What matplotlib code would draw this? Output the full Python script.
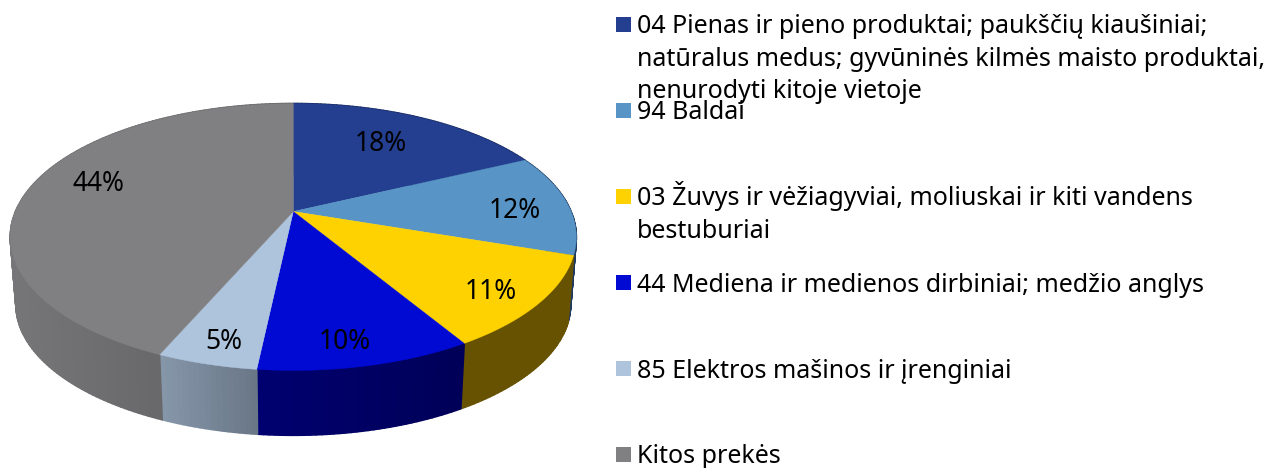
import numpy as np
import matplotlib
matplotlib.use('Agg')
import matplotlib.pyplot as plt
from matplotlib.collections import PolyCollection
from matplotlib.colors import to_rgb
from matplotlib.patches import Rectangle

plt.rcParams['font.family'] = ['Noto Sans', 'DejaVu Sans']

# shares
values = [17.9, 12.3, 11.2, 10.3, 4.8, 43.5]
legend_labels = [
    '04 Pienas ir pieno produktai; paukščių kiaušiniai;\nnatūralus medus; gyvūninės kilmės maisto produktai,\nnenurodyti kitoje vietoje',
    '94 Baldai',
    '03 Žuvys ir vėžiagyviai, moliuskai ir kiti vandens\nbestuburiai',
    '44 Mediena ir medienos dirbiniai; medžio anglys',
    '85 Elektros mašinos ir įrenginiai',
    'Kitos prekės',
]
colors = ['#243f8f', '#5895c6', '#fdd200', '#000ad2', '#aec4dc', '#808083']
wall_left = ['#16265a', '#1f3a60', '#665200', '#000070', '#8797aa', '#767678']
wall_right = ['#16265a', '#1f3a60', '#665200', '#000058', '#687686', '#5c5c5e']

# pixel layout
pct_xy = [(381, 151), (515, 218), (491, 299), (345, 349), (224, 349), (98, 191)]
marker_y = [17, 103, 189, 275, 361, 447]
text_y = [33, 119, 205, 292, 378, 463]
line_h = 32.5

cx, cy = 293.3, 211.5
k, A, B = 0.191, 128.6, 277.8
depth, shrink = 68, 0.98


def project(theta, r=1.0, z=0.0):
    # theta clockwise from 12 o'clock, simple perspective on the disc
    u, v = r * np.sin(theta), r * np.cos(theta)
    w = 1 + k * v
    s = 1 - (1 - shrink) * z
    return cx + s * B * u / w, cy + depth * z - s * A * v / w


fig = plt.figure(figsize=(12.78, 4.68), dpi=100)
ax = fig.add_axes([0, 0, 1, 1])
ax.set_xlim(0, 1278)
ax.set_ylim(468, 0)
ax.axis('off')

edges = np.cumsum([0] + values) / sum(values) * 2 * np.pi

# side wall first, the top face paints over the back of it
for i in range(len(values)):
    th = np.linspace(edges[i], edges[i + 1], max(int((edges[i + 1] - edges[i]) * 60), 2))
    x0, y0 = project(th)
    x1, y1 = project(th, z=1.0)
    quads, cols = [], []
    c_l, c_r = np.array(to_rgb(wall_left[i])), np.array(to_rgb(wall_right[i]))
    xmin, xmax = x0.min(), x0.max()
    for j in range(len(th) - 1):
        quads.append([(x0[j], y0[j]), (x0[j + 1], y0[j + 1]), (x1[j + 1], y1[j + 1]), (x1[j], y1[j])])
        t = (0.5 * (x0[j] + x0[j + 1]) - xmin) / (xmax - xmin)
        cols.append(c_l + (c_r - c_l) * t)
    ax.add_collection(PolyCollection(quads, facecolors=cols, edgecolors=cols, linewidths=1.2, zorder=1))

for i in range(len(values)):
    th = np.linspace(edges[i], edges[i + 1], 200)
    x, y = project(th)
    ax.fill(np.r_[cx, x], np.r_[cy, y], color=colors[i], lw=0.3, zorder=2)

for v, (x, y) in zip(values, pct_xy):
    ax.text(x, y, f'{round(v)}%', ha='center', va='baseline', fontsize=19, color='black', zorder=3)

for lab, col, my, ty in zip(legend_labels, colors, marker_y, text_y):
    ax.add_patch(Rectangle((616, my), 15, 15, facecolor=col, edgecolor='none', zorder=3))
    for n, line in enumerate(lab.split('\n')):
        ax.text(637, ty + n * line_h, line, ha='left', va='baseline', fontsize=18, color='black', zorder=3)

fig.savefig('out.png', dpi=100)
